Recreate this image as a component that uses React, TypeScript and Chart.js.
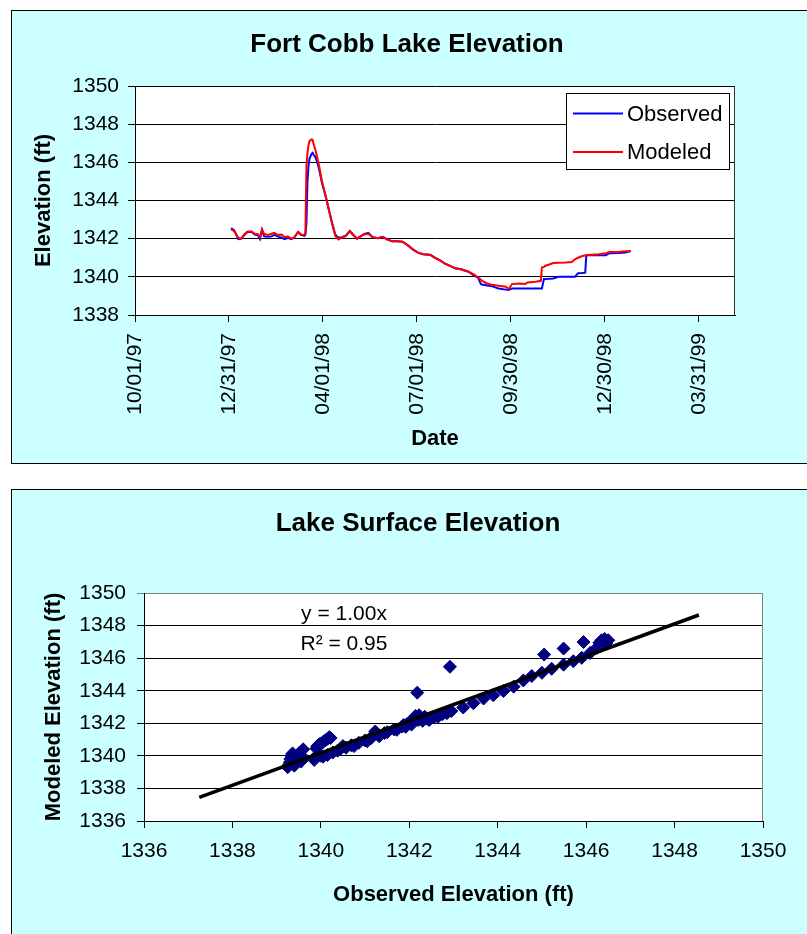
import React, { useEffect, useRef } from 'react';
import { Chart, registerables } from 'chart.js';

Chart.register(...registerables);

const FONT = "'Liberation Sans', Arial, Helvetica, sans-serif";

// ---------------- Chart 1: Fort Cobb Lake Elevation ----------------
const dates: string[] = [
  '1998-01-02', '1998-01-05', '1998-01-09', '1998-01-12', '1998-01-15', '1998-01-18', '1998-01-22',
  '1998-01-25', '1998-01-28', '1998-01-30', '1998-02-01', '1998-02-03', '1998-02-07', '1998-02-10',
  '1998-02-13', '1998-02-16', '1998-02-20', '1998-02-23', '1998-02-26', '1998-03-01', '1998-03-04',
  '1998-03-08', '1998-03-11', '1998-03-14', '1998-03-15', '1998-03-16', '1998-03-17', '1998-03-18',
  '1998-03-19', '1998-03-21', '1998-03-22', '1998-03-23', '1998-03-25', '1998-03-28', '1998-03-31',
  '1998-04-04', '1998-04-07', '1998-04-10', '1998-04-13', '1998-04-16', '1998-04-19', '1998-04-23',
  '1998-04-27', '1998-04-30', '1998-05-04', '1998-05-08', '1998-05-11', '1998-05-15', '1998-05-19',
  '1998-05-24', '1998-05-29', '1998-06-02', '1998-06-07', '1998-06-12', '1998-06-17', '1998-06-22',
  '1998-06-27', '1998-07-02', '1998-07-07', '1998-07-14', '1998-07-18', '1998-07-23', '1998-07-28',
  '1998-08-02', '1998-08-07', '1998-08-13', '1998-08-20', '1998-08-26', '1998-08-29', '1998-09-01',
  '1998-09-02', '1998-09-07', '1998-09-12', '1998-09-18', '1998-09-25', '1998-09-28', '1998-10-01',
  '1998-10-08', '1998-10-14', '1998-10-16', '1998-10-24', '1998-10-29', '1998-10-30', '1998-11-01',
  '1998-11-02', '1998-11-10', '1998-11-15', '1998-11-22', '1998-11-28', '1998-12-01', '1998-12-04',
  '1998-12-08', '1998-12-11', '1998-12-12', '1998-12-14', '1998-12-24', '1998-12-31', '1999-01-03',
  '1999-01-13', '1999-01-19', '1999-01-24',
];

const observed: number[] = [
  1342.55, 1342.45, 1341.98, 1342.0, 1342.2, 1342.35, 1342.35,
  1342.22, 1342.18, 1341.98, 1342.45, 1342.12, 1342.1, 1342.12,
  1342.2, 1342.12, 1342.05, 1341.98, 1342.05, 1341.98, 1342.05,
  1342.35, 1342.2, 1342.15, 1342.2, 1342.8, 1345.0, 1345.8,
  1346.2, 1346.45, 1346.5, 1346.4, 1346.24, 1345.72, 1344.93,
  1344.15, 1343.45, 1342.8, 1342.2, 1342.05, 1342.08, 1342.14,
  1342.4, 1342.22, 1342.0, 1342.14, 1342.25, 1342.3, 1342.08,
  1342.02, 1342.1, 1341.96, 1341.87, 1341.87, 1341.84, 1341.66,
  1341.44, 1341.27, 1341.18, 1341.16, 1341.02, 1340.88, 1340.7,
  1340.57, 1340.45, 1340.4, 1340.27, 1340.04, 1339.97, 1339.62,
  1339.6, 1339.55, 1339.5, 1339.39, 1339.33, 1339.31, 1339.39,
  1339.39, 1339.39, 1339.39, 1339.39, 1339.39, 1339.39, 1339.88,
  1339.88, 1339.91, 1340.0, 1340.0, 1340.0, 1340.0, 1340.19,
  1340.2, 1340.22, 1341.13, 1341.13, 1341.13, 1341.13, 1341.23,
  1341.25, 1341.27, 1341.35,
];

const modeled: number[] = [
  1342.49, 1342.4, 1342.05, 1342.0, 1342.23, 1342.37, 1342.37,
  1342.26, 1342.23, 1342.08, 1342.49, 1342.25, 1342.2, 1342.26,
  1342.3, 1342.2, 1342.22, 1342.08, 1342.12, 1342.0, 1342.05,
  1342.35, 1342.19, 1342.2, 1342.3, 1345.8, 1346.5, 1346.9,
  1347.11, 1347.2, 1347.18, 1346.94, 1346.59, 1345.89, 1345.02,
  1344.15, 1343.45, 1342.75, 1342.14, 1341.96, 1342.05, 1342.14,
  1342.4, 1342.22, 1342.0, 1342.14, 1342.22, 1342.26, 1342.08,
  1342.02, 1342.08, 1341.96, 1341.87, 1341.87, 1341.84, 1341.66,
  1341.44, 1341.27, 1341.18, 1341.14, 1341.0, 1340.86, 1340.69,
  1340.57, 1340.45, 1340.38, 1340.27, 1340.1, 1339.97, 1339.85,
  1339.79, 1339.65, 1339.58, 1339.53, 1339.48, 1339.36, 1339.62,
  1339.65, 1339.62, 1339.7, 1339.74, 1339.79, 1340.49, 1340.52,
  1340.57, 1340.72, 1340.74, 1340.75, 1340.78, 1340.92, 1341.0,
  1341.09, 1341.12, 1341.13, 1341.14, 1341.18, 1341.23, 1341.3,
  1341.32, 1341.34, 1341.35,
];

const dateTickLabels: string[] = ['10/01/97', '12/31/97', '04/01/98', '07/01/98', '09/30/98', '12/30/98', '03/31/99'];
const dateAxisStart = '10/01/97';
const dateAxisEnd = '05/05/99';
const elevTicksTop: number[] = [1338, 1340, 1342, 1344, 1346, 1348, 1350];
const seriesNames: string[] = ['Observed', 'Modeled'];

// ---------------- Chart 2: Lake Surface Elevation (scatter) ----------------
const scatterObserved: number[] = [
  1339.25, 1339.28, 1339.3, 1339.31, 1339.33, 1339.36, 1339.4, 1339.42, 1339.45, 1339.48,
  1339.52, 1339.55, 1339.6, 1339.62,
  1339.85, 1339.88, 1339.9, 1339.92, 1339.97, 1340.0, 1340.0, 1340.05, 1340.1, 1340.15,
  1340.19, 1340.22, 1340.05,
  1340.15, 1340.27, 1340.38, 1340.45, 1340.5, 1340.57, 1340.69, 1340.75, 1340.86, 1341.0,
  1341.05, 1341.14, 1341.18, 1341.23, 1341.27, 1341.32, 1341.44, 1341.5, 1341.66, 1341.72,
  1341.84, 1341.87, 1341.92, 1341.96, 1342.0, 1342.05, 1342.08, 1342.12, 1342.14, 1342.2,
  1342.22, 1342.26, 1342.3, 1342.35, 1342.4, 1342.45, 1342.55, 1342.65, 1342.75, 1342.85,
  1342.95,
  1343.22, 1343.45, 1343.68, 1343.9, 1344.13, 1344.36, 1344.58, 1344.77, 1345.0, 1345.22,
  1345.49, 1345.71, 1345.9, 1346.09, 1346.24, 1346.3, 1346.35, 1346.42, 1346.5, 1346.45,
  1342.92, 1342.18, 1345.05, 1345.49, 1345.94,
];

const scatterModeled: number[] = [
  1339.3, 1339.45, 1339.6, 1339.8, 1340.0, 1340.15, 1339.4, 1339.55, 1339.75, 1339.95,
  1340.2, 1339.65, 1340.4, 1339.85,
  1339.75, 1339.95, 1340.45, 1340.6, 1340.72, 1340.0, 1340.75, 1340.85, 1340.95, 1341.05,
  1341.15, 1341.1, 1339.95,
  1340.05, 1340.2, 1340.32, 1340.45, 1340.6, 1340.5, 1340.65, 1340.6, 1340.8, 1340.95,
  1340.9, 1341.1, 1341.25, 1341.5, 1341.35, 1341.2, 1341.4, 1341.45, 1341.62, 1341.6,
  1341.8, 1341.9, 1341.78, 1341.98, 1342.05, 1341.92, 1342.12, 1342.3, 1342.45, 1342.2,
  1342.5, 1342.35, 1342.15, 1342.4, 1342.28, 1342.2, 1342.35, 1342.4, 1342.55, 1342.62,
  1342.75,
  1342.97, 1343.23, 1343.52, 1343.72, 1343.98, 1344.25, 1344.63, 1344.9, 1345.1, 1345.35,
  1345.6, 1345.81, 1346.02, 1346.32, 1346.63, 1346.95, 1347.1, 1347.18, 1347.1, 1346.9,
  1345.47, 1343.88, 1346.22, 1346.59, 1346.99,
];

const trendObserved: number[] = [1337.25, 1348.55];
const trendModeled: number[] = [1337.45, 1348.65];
const elevTicksScatter: number[] = [1336, 1338, 1340, 1342, 1344, 1346, 1348, 1350];
const trendEquation = 'y = 1.00x';
const trendR2 = 'R² = 0.95';

// ---------------- helpers ----------------
const DAY = 86400000;
function mdyToUTC(s: string): number {
  const [m, d, y] = s.split('/').map(Number);
  return Date.UTC(1900 + y, m - 1, d);
}
const BASE = mdyToUTC(dateAxisStart);
function mdyToDay(s: string): number {
  return Math.round((mdyToUTC(s) - BASE) / DAY);
}
function isoToDay(s: string): number {
  const [y, m, d] = s.split('-').map(Number);
  return Math.round((Date.UTC(y, m - 1, d) - BASE) / DAY);
}

function decorPlugin(o: {
  title: string;
  titleX: number;
  titleBaseline: number;
  frameColor: string;
  extra?: (chart: any) => void;
}) {
  return {
    id: 'decor',
    beforeDraw(chart: any) {
      const { ctx, chartArea } = chart;
      ctx.save();
      ctx.fillStyle = '#ffffff';
      ctx.fillRect(chartArea.left, chartArea.top, chartArea.right - chartArea.left, chartArea.bottom - chartArea.top);
      ctx.restore();
    },
    afterDraw(chart: any) {
      const { ctx, chartArea } = chart;
      ctx.save();
      // right frame of plot area
      ctx.strokeStyle = o.frameColor;
      ctx.lineWidth = 1;
      ctx.beginPath();
      const rx = Math.round(chartArea.right) - 0.5;
      ctx.moveTo(rx, Math.round(chartArea.top));
      ctx.lineTo(rx, Math.round(chartArea.bottom));
      ctx.stroke();
      // chart title
      ctx.fillStyle = '#000';
      ctx.font = `bold 26px ${FONT}`;
      ctx.textAlign = 'center';
      ctx.textBaseline = 'alphabetic';
      ctx.fillText(o.title, o.titleX, o.titleBaseline);
      ctx.restore();
      if (o.extra) o.extra(chart);
    },
  };
}

export default function App() {
  const c1 = useRef<HTMLCanvasElement | null>(null);
  const c2 = useRef<HTMLCanvasElement | null>(null);

  useEffect(() => {
    Chart.defaults.font.family = FONT;
    Chart.defaults.color = '#000';

    const tickFont = { family: FONT, size: 21 };
    const axisTitleFont = { family: FONT, size: 22, weight: 'bold' as const };

    const legendColors = ['#0000FF', '#FF0000'];

    const chart1 = new Chart(c1.current as HTMLCanvasElement, {
      type: 'line',
      data: {
        datasets: [
          {
            label: seriesNames[1],
            data: dates.map((d, i) => ({ x: isoToDay(d), y: modeled[i] })),
            borderColor: '#FF0000',
            borderWidth: 2,
            pointRadius: 0,
            tension: 0,
            fill: false,
            order: 0,
          },
          {
            label: seriesNames[0],
            data: dates.map((d, i) => ({ x: isoToDay(d), y: observed[i] })),
            borderColor: '#0000FF',
            borderWidth: 2,
            pointRadius: 0,
            tension: 0,
            fill: false,
            order: 1,
          },
        ],
      },
      options: {
        responsive: false,
        animation: false,
        events: [],
        layout: { padding: { left: 20, top: 86, right: 72, bottom: 18 } },
        plugins: { legend: { display: false }, title: { display: false }, tooltip: { enabled: false } },
        scales: {
          x: {
            type: 'linear',
            min: mdyToDay(dateAxisStart),
            max: mdyToDay(dateAxisEnd),
            afterBuildTicks: (scale: any) => {
              scale.ticks = dateTickLabels.map((l) => ({ value: mdyToDay(l) }));
            },
            afterFit: (scale: any) => {
              scale.height = 137;
            },
            ticks: {
              autoSkip: false,
              minRotation: 90,
              maxRotation: 90,
              padding: 11,
              color: '#000',
              font: tickFont,
              callback: (_v: any, i: number) => dateTickLabels[i],
            },
            grid: { drawOnChartArea: false, color: '#000', tickLength: 7 },
            border: { color: '#000', width: 1 },
            title: { display: true, text: 'Date', color: '#000', font: axisTitleFont, padding: { top: 0, bottom: 0 } },
          },
          y: {
            min: elevTicksTop[0],
            max: elevTicksTop[elevTicksTop.length - 1],
            afterBuildTicks: (scale: any) => {
              scale.ticks = elevTicksTop.map((v) => ({ value: v }));
            },
            afterFit: (scale: any) => {
              scale.width = 115;
            },
            ticks: { padding: 9, color: '#000', font: tickFont, callback: (v: any) => String(v) },
            grid: { color: '#000', tickLength: 7 },
            border: { color: '#000', width: 1 },
            title: { display: true, text: 'Elevation (ft)', color: '#000', font: axisTitleFont, padding: { top: 11, bottom: 0 } },
          },
        },
      },
      plugins: [
        decorPlugin({
          title: 'Fort Cobb Lake Elevation',
          titleX: 407,
          titleBaseline: 52,
          frameColor: '#333333',
          extra: (chart: any) => {
            const { ctx, chartArea } = chart;
            const x0 = Math.round(chartArea.right) - 169;
            const y0 = Math.round(chartArea.top) + 7;
            ctx.save();
            ctx.fillStyle = '#fff';
            ctx.fillRect(x0, y0, 163, 76);
            ctx.strokeStyle = '#000';
            ctx.lineWidth = 1;
            ctx.strokeRect(x0 + 0.5, y0 + 0.5, 163, 76);
            ctx.font = `22px ${FONT}`;
            ctx.textAlign = 'left';
            ctx.textBaseline = 'middle';
            seriesNames.forEach((name, i) => {
              const ly = y0 + 20.5 + i * 38.5;
              ctx.strokeStyle = legendColors[i];
              ctx.lineWidth = 2;
              ctx.beginPath();
              ctx.moveTo(x0 + 7, ly);
              ctx.lineTo(x0 + 57, ly);
              ctx.stroke();
              ctx.fillStyle = '#000';
              ctx.fillText(name, x0 + 61, ly + 1);
            });
            ctx.restore();
          },
        }),
      ],
    } as any);

    const chart2 = new Chart(c2.current as HTMLCanvasElement, {
      type: 'scatter',
      data: {
        datasets: [
          {
            label: 'Trend',
            data: trendObserved.map((x, i) => ({ x, y: trendModeled[i] })),
            showLine: true,
            borderColor: '#000',
            borderWidth: 3.5,
            pointRadius: 0,
            order: 0,
          },
          {
            label: 'Lake Surface Elevation',
            data: scatterObserved.map((x, i) => ({ x, y: scatterModeled[i] })),
            pointStyle: 'rectRot',
            pointRadius: 6.5,
            backgroundColor: '#000080',
            borderColor: '#000080',
            borderWidth: 1,
            order: 1,
          },
        ],
      },
      options: {
        responsive: false,
        animation: false,
        events: [],
        layout: { padding: { left: 20, top: 113, right: 44, bottom: 26 } },
        plugins: { legend: { display: false }, title: { display: false }, tooltip: { enabled: false } },
        scales: {
          x: {
            type: 'linear',
            min: elevTicksScatter[0],
            max: elevTicksScatter[elevTicksScatter.length - 1],
            afterBuildTicks: (scale: any) => {
              scale.ticks = elevTicksScatter.map((v) => ({ value: v }));
            },
            afterFit: (scale: any) => {
              scale.height = 87;
            },
            ticks: { padding: 11, color: '#000', font: tickFont, maxRotation: 0, autoSkip: false, callback: (v: any) => String(v) },
            grid: { drawOnChartArea: false, color: '#000', tickLength: 7 },
            border: { color: '#000', width: 1 },
            title: { display: true, text: 'Observed Elevation (ft)', color: '#000', font: axisTitleFont, padding: { top: 0, bottom: 0 } },
          },
          y: {
            type: 'linear',
            min: elevTicksScatter[0],
            max: elevTicksScatter[elevTicksScatter.length - 1],
            afterBuildTicks: (scale: any) => {
              scale.ticks = elevTicksScatter.map((v) => ({ value: v }));
            },
            afterFit: (scale: any) => {
              scale.width = 124;
            },
            ticks: { padding: 11, color: '#000', font: tickFont, callback: (v: any) => String(v) },
            grid: {
              color: (ctx: any) => (ctx.tick && ctx.tick.value === 1350 ? '#808080' : '#000'),
              tickLength: 7,
            },
            border: { color: '#000', width: 1 },
            title: { display: true, text: 'Modeled Elevation (ft)', color: '#000', font: axisTitleFont, padding: { top: 21, bottom: 0 } },
          },
        },
      },
      plugins: [
        decorPlugin({
          title: 'Lake Surface Elevation',
          titleX: 418,
          titleBaseline: 51,
          frameColor: '#808080',
          extra: (chart: any) => {
            const { ctx, chartArea } = chart;
            const cx = chartArea.left + 200;
            ctx.save();
            ctx.fillStyle = '#000';
            ctx.font = `21px ${FONT}`;
            ctx.textAlign = 'center';
            ctx.textBaseline = 'alphabetic';
            ctx.fillText(trendEquation, cx, chartArea.top + 27);
            ctx.fillText(trendR2, cx, chartArea.top + 56.5);
            ctx.restore();
          },
        }),
      ],
    } as any);

    return () => {
      chart1.destroy();
      chart2.destroy();
    };
  }, []);

  return (
    <div style={{ position: 'absolute', left: 0, top: 0, width: 807, height: 934, background: '#fff', overflow: 'hidden' }}>
      <div style={{ position: 'absolute', left: 11, top: 10, width: 820, height: 452, border: '1px solid #000', background: '#CCFFFF' }} />
      <div style={{ position: 'absolute', left: 11, top: 489, width: 820, height: 500, border: '1px solid #000', background: '#CCFFFF' }} />
      <canvas ref={c1} width={807} height={470} style={{ position: 'absolute', left: 0, top: 0, width: 807, height: 470 }} />
      <canvas ref={c2} width={807} height={454} style={{ position: 'absolute', left: 0, top: 480, width: 807, height: 454 }} />
    </div>
  );
}
